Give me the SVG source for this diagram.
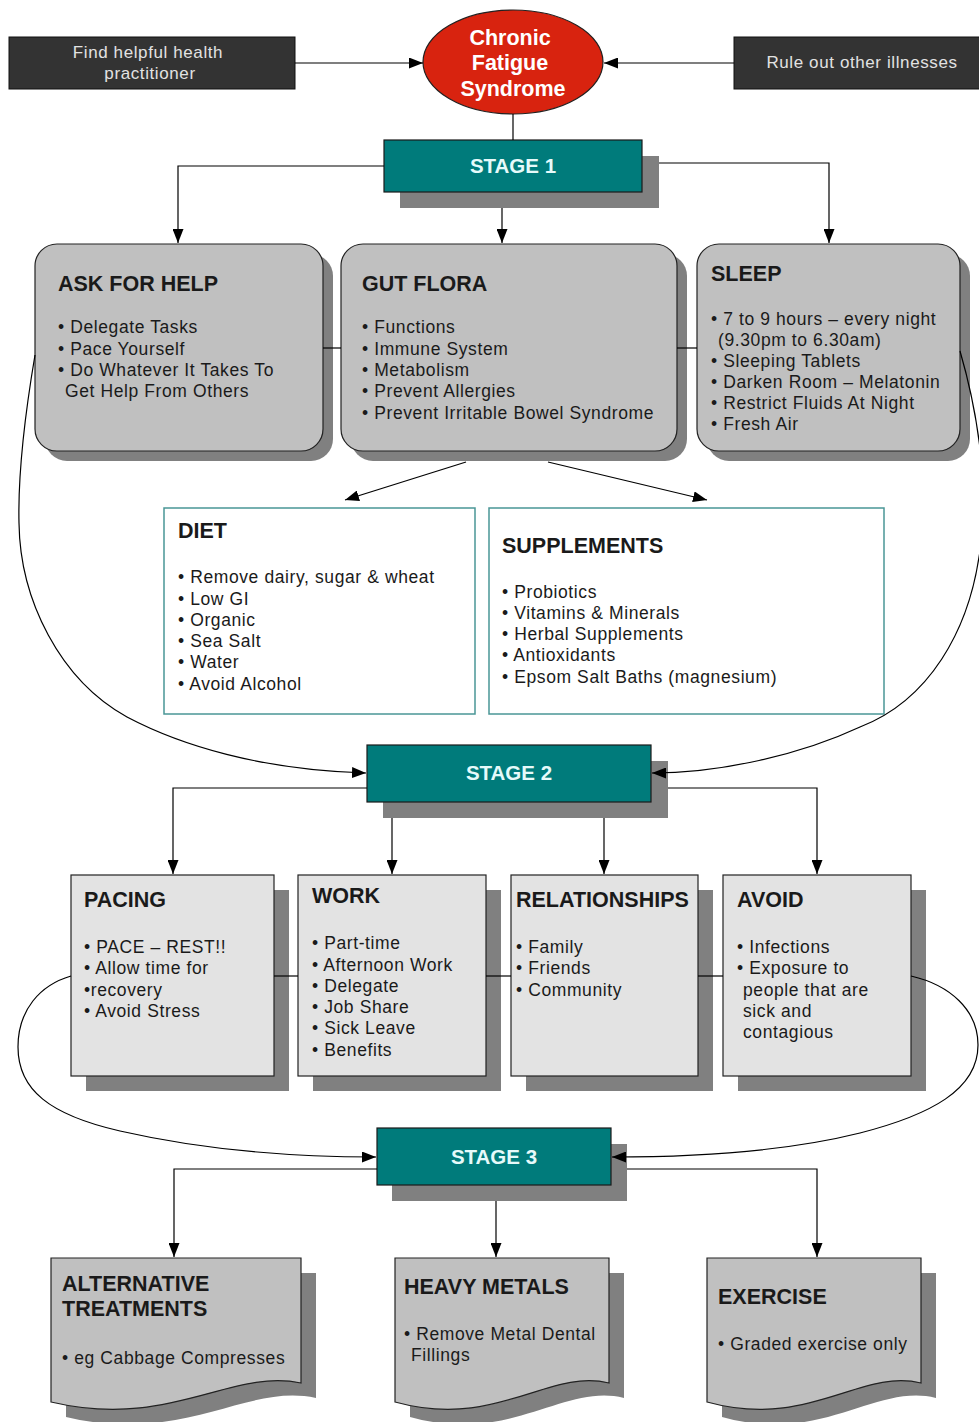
<svg xmlns="http://www.w3.org/2000/svg" width="979" height="1422" viewBox="0 0 979 1422">
<style>
text{font-family:"Liberation Sans",Arial,sans-serif;fill:#1a1a1a}
.t{font-size:21.5px;font-weight:bold}
.b{font-size:17.5px;letter-spacing:0.6px}
.top{font-size:17px;letter-spacing:0.6px;fill:#e2e2e2;text-anchor:middle}
.stg{font-size:20.5px;font-weight:bold;fill:#e6fafa;text-anchor:middle}
.cfs{font-size:21.5px;font-weight:bold;fill:#ffffff;text-anchor:middle}
.sh{fill:#808080}
.r1{fill:#c0c0c0;stroke:#222;stroke-width:1.2}
.r2{fill:#e3e3e3;stroke:#222;stroke-width:1.2}
.r3{fill:#c0c0c0;stroke:#222;stroke-width:1.2}
.st{fill:#007b7b;stroke:#1a1a1a;stroke-width:1.2}
.dk{fill:#333333;stroke:#111;stroke-width:1}
.wb{fill:#ffffff;stroke:#4a9696;stroke-width:1.5}
.c{fill:none;stroke:#000;stroke-width:1.2}
.a{marker-end:url(#ah)}
</style>
<defs>
<marker id="ah" markerUnits="userSpaceOnUse" markerWidth="15" markerHeight="11" refX="14" refY="5.5" orient="auto">
<path d="M0,0 L14,5.5 L0,11 z" fill="#000"/>
</marker>
</defs>
<rect width="979" height="1422" fill="#ffffff"/>

<g id="find-practitioner">
<rect class="dk" x="9" y="37" width="286" height="52"/>
<text class="top" x="148" y="58">Find helpful health</text>
<text class="top" x="150" y="79">practitioner</text>
</g>
<g id="rule-out">
<rect class="dk" x="734" y="37" width="260" height="52"/>
<text class="top" x="862" y="68">Rule out other illnesses</text>
</g>
<g id="cfs">
<ellipse cx="513" cy="62" rx="90" ry="52" fill="#d8230f" stroke="#222" stroke-width="1.2"/>
<text class="cfs" x="510" y="45">Chronic</text>
<text class="cfs" x="510" y="70">Fatigue</text>
<text class="cfs" x="513" y="96">Syndrome</text>
</g>

<g id="stage1">
<rect class="sh" x="400" y="156" width="259" height="52"/>
<rect class="st" x="384" y="140" width="258" height="52"/>
<text class="stg" x="513" y="173">STAGE 1</text>
</g>

<g id="ask-for-help">
<rect class="sh" x="45" y="254" width="288" height="207" rx="22"/>
<rect class="r1" x="35" y="244" width="288" height="207" rx="22"/>
<text class="t" x="58" y="291">ASK FOR HELP</text>
<text class="b" x="58" y="333">• Delegate Tasks</text>
<text class="b" x="58" y="355">• Pace Yourself</text>
<text class="b" x="58" y="376">• Do Whatever It Takes To</text>
<text class="b" x="65" y="397">Get Help From Others</text>
</g>
<g id="gut-flora">
<rect class="sh" x="351" y="254" width="336" height="207" rx="22"/>
<rect class="r1" x="341" y="244" width="336" height="207" rx="22"/>
<text class="t" x="362" y="291">GUT FLORA</text>
<text class="b" x="362" y="333">• Functions</text>
<text class="b" x="362" y="355">• Immune System</text>
<text class="b" x="362" y="376">• Metabolism</text>
<text class="b" x="362" y="397">• Prevent Allergies</text>
<text class="b" x="362" y="419">• Prevent Irritable Bowel Syndrome</text>
</g>
<g id="sleep">
<rect class="sh" x="707" y="254" width="263" height="207" rx="22"/>
<rect class="r1" x="697" y="244" width="263" height="207" rx="22"/>
<text class="t" x="711" y="281">SLEEP</text>
<text class="b" x="711" y="325">• 7 to 9 hours – every night</text>
<text class="b" x="718" y="346">(9.30pm to 6.30am)</text>
<text class="b" x="711" y="367">• Sleeping Tablets</text>
<text class="b" x="711" y="388">• Darken Room – Melatonin</text>
<text class="b" x="711" y="409">• Restrict Fluids At Night</text>
<text class="b" x="711" y="430">• Fresh Air</text>
</g>

<g id="diet">
<rect class="wb" x="164" y="508" width="311" height="206"/>
<text class="t" x="178" y="538">DIET</text>
<text class="b" x="178" y="583">• Remove dairy, sugar &amp; wheat</text>
<text class="b" x="178" y="605">• Low GI</text>
<text class="b" x="178" y="626">• Organic</text>
<text class="b" x="178" y="647">• Sea Salt</text>
<text class="b" x="178" y="668">• Water</text>
<text class="b" x="178" y="690">• Avoid Alcohol</text>
</g>
<g id="supplements">
<rect class="wb" x="489" y="508" width="395" height="206"/>
<text class="t" x="502" y="553">SUPPLEMENTS</text>
<text class="b" x="502" y="598">• Probiotics</text>
<text class="b" x="502" y="619">• Vitamins &amp; Minerals</text>
<text class="b" x="502" y="640">• Herbal Supplements</text>
<text class="b" x="502" y="661">• Antioxidants</text>
<text class="b" x="502" y="683">• Epsom Salt Baths (magnesium)</text>
</g>

<g id="stage2">
<rect class="sh" x="383" y="761" width="285" height="57"/>
<rect class="st" x="367" y="745" width="284" height="57"/>
<text class="stg" x="509" y="780">STAGE 2</text>
</g>

<g id="pacing">
<rect class="sh" x="86" y="890" width="203" height="201"/>
<rect class="r2" x="71" y="875" width="203" height="201"/>
<text class="t" x="84" y="907">PACING</text>
<text class="b" x="84" y="953">• PACE – REST!!</text>
<text class="b" x="84" y="974">• Allow time for</text>
<text class="b" x="84" y="996">•recovery</text>
<text class="b" x="84" y="1017">• Avoid Stress</text>
</g>
<g id="work">
<rect class="sh" x="313" y="890" width="188" height="201"/>
<rect class="r2" x="298" y="875" width="188" height="201"/>
<text class="t" x="312" y="903">WORK</text>
<text class="b" x="312" y="949">• Part-time</text>
<text class="b" x="312" y="971">• Afternoon Work</text>
<text class="b" x="312" y="992">• Delegate</text>
<text class="b" x="312" y="1013">• Job Share</text>
<text class="b" x="312" y="1034">• Sick Leave</text>
<text class="b" x="312" y="1056">• Benefits</text>
</g>
<g id="relationships">
<rect class="sh" x="526" y="890" width="187" height="201"/>
<rect class="r2" x="511" y="875" width="187" height="201"/>
<text class="t" x="516" y="907">RELATIONSHIPS</text>
<text class="b" x="516" y="953">• Family</text>
<text class="b" x="516" y="974">• Friends</text>
<text class="b" x="516" y="996">• Community</text>
</g>
<g id="avoid">
<rect class="sh" x="738" y="890" width="188" height="201"/>
<rect class="r2" x="723" y="875" width="188" height="201"/>
<text class="t" x="737" y="907">AVOID</text>
<text class="b" x="737" y="953">• Infections</text>
<text class="b" x="737" y="974">• Exposure to</text>
<text class="b" x="743" y="996">people that are</text>
<text class="b" x="743" y="1017">sick and</text>
<text class="b" x="743" y="1038">contagious</text>
</g>

<g id="stage3">
<rect class="sh" x="392" y="1144" width="235" height="57"/>
<rect class="st" x="377" y="1128" width="234" height="57"/>
<text class="stg" x="494" y="1164">STAGE 3</text>
</g>

<g id="alternative">
<path class="sh" transform="translate(15,15)" d="M51,1258 H301 V1383 C230,1368 170,1430 51,1402 Z"/>
<path class="r3" d="M51,1258 H301 V1383 C230,1368 170,1430 51,1402 Z"/>
<text class="t" x="62" y="1291">ALTERNATIVE</text>
<text class="t" x="62" y="1316">TREATMENTS</text>
<text class="b" x="62" y="1364">• eg Cabbage Compresses</text>
</g>
<g id="heavy-metals">
<path class="sh" transform="translate(15,15)" d="M395,1258 H609 V1383 C548,1368 497,1430 395,1402 Z"/>
<path class="r3" d="M395,1258 H609 V1383 C548,1368 497,1430 395,1402 Z"/>
<text class="t" x="404" y="1294">HEAVY METALS</text>
<text class="b" x="404" y="1340">• Remove Metal Dental</text>
<text class="b" x="411" y="1361">Fillings</text>
</g>
<g id="exercise">
<path class="sh" transform="translate(15,15)" d="M707,1258 H921 V1383 C860,1368 809,1430 707,1402 Z"/>
<path class="r3" d="M707,1258 H921 V1383 C860,1368 809,1430 707,1402 Z"/>
<text class="t" x="718" y="1304">EXERCISE</text>
<text class="b" x="718" y="1350">• Graded exercise only</text>
</g>

<g id="connectors">
<path class="c a" d="M295,63 H423"/>
<path class="c a" d="M734,63 H604"/>
<path class="c" d="M513,114 V140"/>
<path class="c a" d="M384,166 H178 V243"/>
<path class="c a" d="M502,208 V243"/>
<path class="c a" d="M659,163 H829 V243"/>
<path class="c" d="M323,348 H341"/>
<path class="c" d="M677,348 H697"/>
<path class="c a" d="M466,462 L345,500"/>
<path class="c a" d="M548,462 L707,500"/>
<path class="c a" d="M35,355 C24,420 18,480 19,523 C20,600 60,680 127,717 C180,745 260,770 366,773"/>
<path class="c a" d="M960,351 C980,420 990,500 979,557 C968,630 930,700 860,727 C800,755 720,773 652,773"/>
<path class="c a" d="M367,788 H173 V874"/>
<path class="c a" d="M392,818 V874"/>
<path class="c a" d="M604,818 V874"/>
<path class="c a" d="M668,788 H817 V874"/>
<path class="c" d="M274,976 H298"/>
<path class="c" d="M486,976 H511"/>
<path class="c" d="M698,976 H723"/>
<path class="c a" d="M71,976 C40,985 18,1010 18,1047 C18,1090 50,1115 120,1131 C190,1147 280,1157 376,1157"/>
<path class="c a" d="M911,976 C950,985 978,1010 978,1045 C978,1090 930,1115 860,1133 C800,1148 720,1157 612,1157"/>
<path class="c a" d="M377,1169 H174 V1257"/>
<path class="c a" d="M496,1201 V1257"/>
<path class="c a" d="M627,1169 H817 V1257"/>
</g>
</svg>
